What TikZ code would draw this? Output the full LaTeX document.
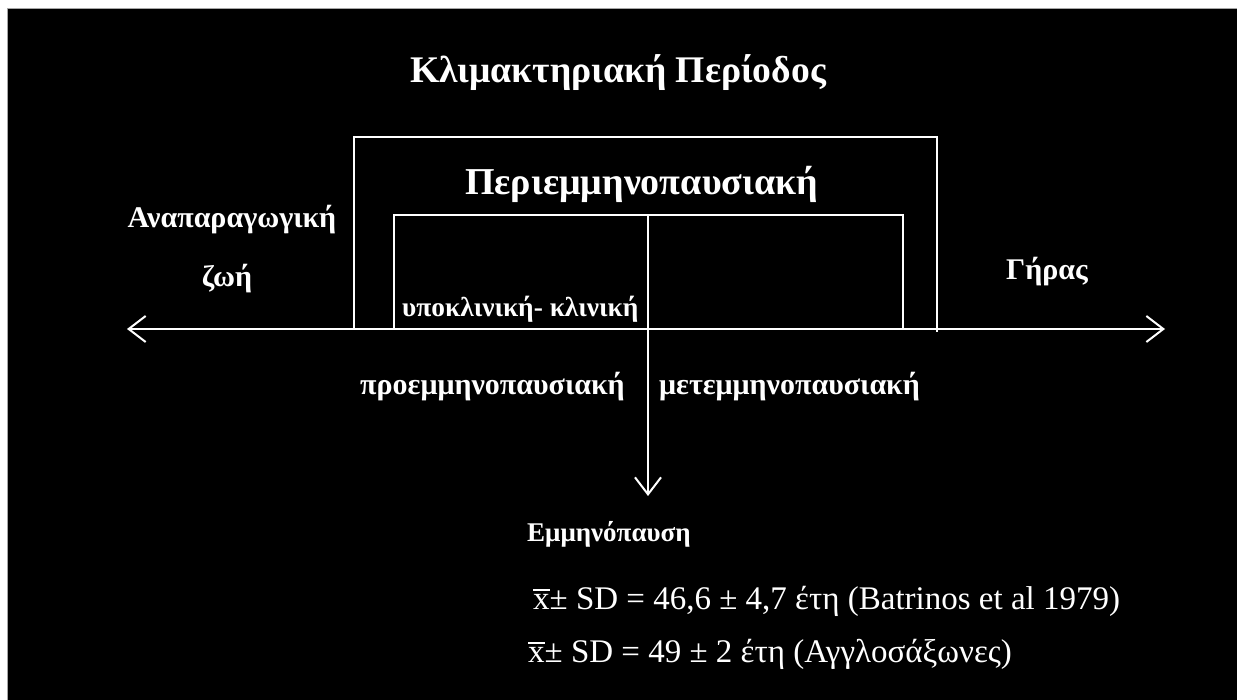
\documentclass[tikz,border=0pt]{standalone}
\usepackage{fontspec}
\setmainfont{Liberation Serif}
\usetikzlibrary{arrows.meta}
\newcommand{\xbarsym}{{\setbox0\hbox{x}\rlap{\rule[\dimexpr\ht0+3pt\relax]{\wd0}{1.6pt}}x}}
\begin{document}
\begin{tikzpicture}[x=1pt,y=-1pt,
  lbl/.style={text=white,inner sep=0pt,anchor=base west,font=\bfseries\fontsize{30}{34}\selectfont},
  ln/.style={draw=white,line width=2pt},
  barb/.style={-{Straight Barb[length=17pt,width=26pt,line width=2pt]}},
  dbarb/.style={{Straight Barb[length=17pt,width=26pt,line width=2pt]}-{Straight Barb[length=17pt,width=26pt,line width=2pt]}}]
\useasboundingbox (0,0) rectangle (1237,700);
\fill[white] (0,0) rectangle (1237,700);
\fill[black,draw=gray!70,line width=1pt] (7.5,8.5) rectangle (1240,704);
% texts
\node[lbl,font=\bfseries\fontsize{37.6}{44}\selectfont] (title) at (410,83) {Κλιμακτηριακή Περίοδος};
\node[lbl,font=\bfseries\fontsize{38}{44}\selectfont] (peri) at (465,195) {Περιεμμηνοπαυσιακή};
\node[lbl,anchor=base] (anap) at (232,228) {Αναπαραγωγική};
\node[lbl,anchor=base] (zoi) at (227,287) {ζωή};
\node[lbl] (gir) at (1006,280) {Γήρας};
\node[lbl,font=\bfseries\fontsize{27.4}{32}\selectfont] (ypo) at (402,317) {υποκλινική- κλινική};
\node[lbl] (pro) at (360,395) {προεμμηνοπαυσιακή};
\node[lbl] (met) at (659,395) {μετεμμηνοπαυσιακή};
\node[lbl,font=\bfseries\fontsize{27}{32}\selectfont] (emm) at (527,541) {Εμμηνόπαυση};
\node[lbl,font=\fontsize{33}{38}\selectfont] (f1) at (533,609) {\xbarsym± SD = 46,6 ± 4,7 έτη (Batrinos et al 1979)};
\node[lbl,font=\fontsize{33}{38}\selectfont] (f2) at (528,662) {\xbarsym± SD = 49 ± 2 έτη (Αγγλοσάξωνες)};
% geometry
\coordinate (axL) at (127,329);
\coordinate (axR) at (1165,329);
\coordinate (o1) at (354,329);
\coordinate (o2) at (354,137);
\coordinate (o3) at (937,137);
\coordinate (o4) at (937,332);
\coordinate (i1) at (394,329);
\coordinate (i2) at (394,215);
\coordinate (i3) at (903,215);
\coordinate (i4) at (903,329);
\coordinate (vtop) at (648,215);
\coordinate (vtip) at (648,496);
\draw[ln] (o1) -- (o2) -- (o3) -- (o4);
\draw[ln] (i1) -- (i2) -- (i3) -- (i4);
\draw[ln,dbarb] (axL) -- (axR);
\draw[ln,barb] (vtop) -- (vtip);
\end{tikzpicture}
\end{document}
